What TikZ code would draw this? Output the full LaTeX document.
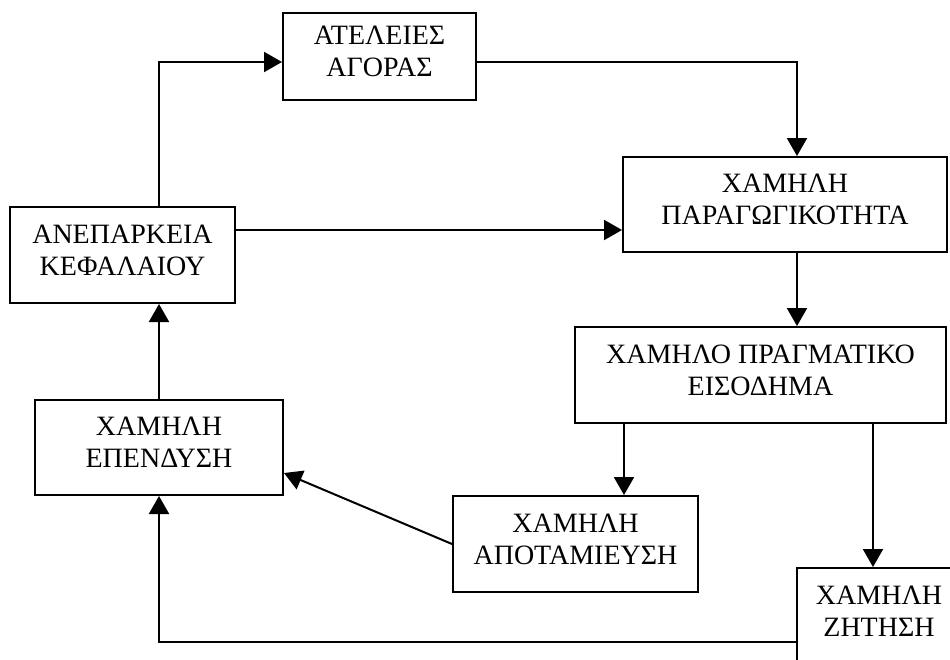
\documentclass[tikz,border=0pt]{standalone}
\usepackage{fontspec}
\setmainfont{Liberation Serif}
\usetikzlibrary{arrows.meta}

\tikzset{
	box/.style = {draw, line width = 1pt, align = center, inner sep = 2pt,
		font = \fontsize{14pt}{16pt}\selectfont, text depth = 5pt},
	flow/.style = {line width = 1pt, -{Triangle[length = 9pt, width = 10pt]}}
}

\begin{document}
\begin{tikzpicture}[x = 0.5pt, y = -0.5pt]
	\useasboundingbox (0, 0) rectangle (950, 660);
	\clip (0, 0) rectangle (950, 660);
	
	\node[box, minimum width = 96.5pt, minimum height = 43.5pt] (atel) at (379.5, 56.5) {ΑΤΕΛΕΙΕΣ\\ΑΓΟΡΑΣ};
	\node[box, minimum width = 162pt, minimum height = 47.5pt] (paraq) at (785, 204.5) {ΧΑΜΗΛΗ\\ΠΑΡΑΓΩΓΙΚΟΤΗΤΑ};
	\node[box, minimum width = 112.5pt, minimum height = 48pt] (anep) at (122.5, 255) {ΑΝΕΠΑΡΚΕΙΑ\\ΚΕΦΑΛΑΙΟΥ};
	\node[box, minimum width = 185.5pt, minimum height = 48pt] (eisod) at (760.5, 375) {ΧΑΜΗΛΟ ΠΡΑΓΜΑΤΙΚΟ\\ΕΙΣΟΔΗΜΑ};
	\node[box, minimum width = 124pt, minimum height = 47.5pt] (epend) at (159, 447.5) {ΧΑΜΗΛΗ\\ΕΠΕΝΔΥΣΗ};
	\node[box, minimum width = 122.5pt, minimum height = 48pt] (apot) at (575.5, 544) {ΧΑΜΗΛΗ\\ΑΠΟΤΑΜΙΕΥΣΗ};
	\node[box, minimum width = 82pt, minimum height = 48pt] (zit) at (879, 616) {ΧΑΜΗΛΗ\\ΖΗΤΗΣΗ};
	
	\draw[flow] (anep.north -| epend.north) |- ([yshift = -2.75pt]atel.west);
	\draw[flow] ([yshift = -2.75pt]atel.east) -| ([xshift = 6pt]paraq.north);
	\draw[flow] ([yshift = 12.5pt]anep.east) -- ([yshift = 12.5pt]anep.east -| paraq.west);
	\draw[flow] ([xshift = 6pt]paraq.south) -- ([xshift = 6pt]paraq.south |- eisod.north);
	\draw[flow] ([xshift = 25pt]eisod.south west) -- ([xshift = 25pt]eisod.south west |- apot.north);
	\draw[flow] ([xshift = -37pt]eisod.south east) -- ([xshift = -37pt]eisod.south east |- zit.north);
	\draw[flow] ([yshift = -13pt]zit.west) -| (epend.south);
	\draw[flow] (apot.west) -- ([yshift = -12.75pt]epend.east);
	\draw[flow] (epend.north) -- (epend.north |- anep.south);
\end{tikzpicture}
\end{document}
